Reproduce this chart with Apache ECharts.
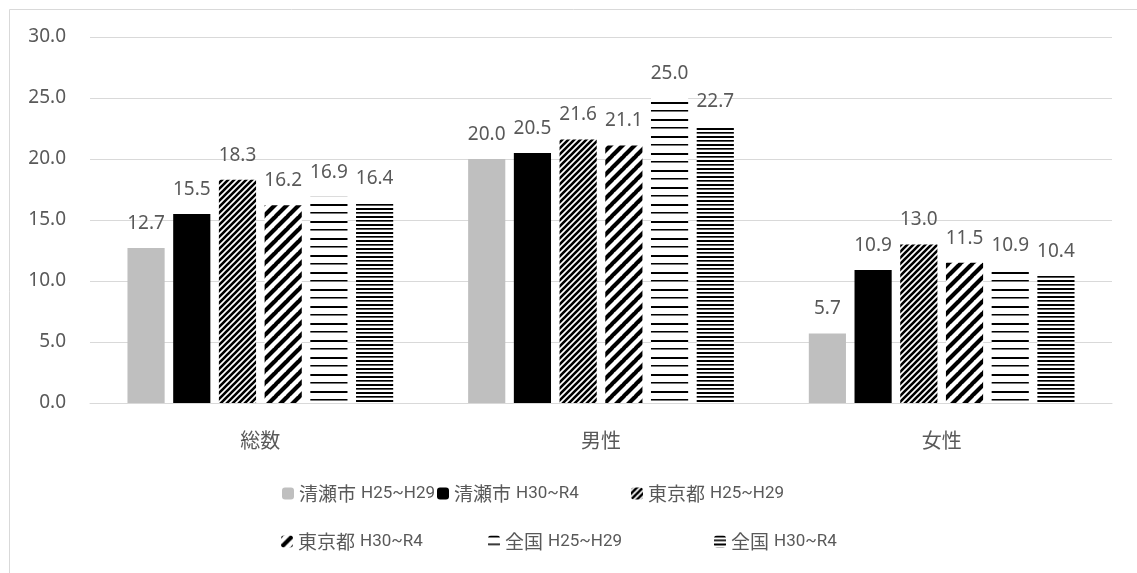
<!DOCTYPE html>
<html>
<head>
<meta charset="utf-8">
<script src="https://cdn.jsdelivr.net/npm/echarts@6/dist/echarts.min.js"></script>
<style>
  html, body { margin: 0; padding: 0; background: #fff; }
  #chart { width: 1137px; height: 573px; }
</style>
</head>
<body>
<div id="chart"></div>
<script>
// Categories and series values
const categories = ['総数', '男性', '女性'];
const seriesNames = [
  '清瀬市 H25~H29', '清瀬市 H30~R4',
  '東京都 H25~H29', '東京都 H30~R4',
  '全国 H25~H29', '全国 H30~R4'
];
const kiyoseH25 = [12.7, 20.0, 5.7];
const kiyoseH30 = [15.5, 20.5, 10.9];
const tokyoH25 = [18.3, 21.6, 13.0];
const tokyoH30 = [16.2, 21.1, 11.5];
const zenkokuH25 = [16.9, 25.0, 10.9];
const zenkokuH30 = [16.4, 22.7, 10.4];
const yTicks = [0, 5, 10, 15, 20, 25, 30];

const values = [kiyoseH25, kiyoseH30, tokyoH25, tokyoH30, zenkokuH25, zenkokuH30];

// Fill patterns
function diagonalTile(size, lineWidth) {
  const c = document.createElement('canvas');
  c.width = size; c.height = size;
  const g = c.getContext('2d');
  g.fillStyle = '#fff';
  g.fillRect(0, 0, size, size);
  g.strokeStyle = '#000';
  g.lineWidth = lineWidth;
  g.beginPath();
  for (let k = -1; k <= 1; k++) {
    const x0 = k * size;
    g.moveTo(x0 - 1, size + 1);
    g.lineTo(x0 + size + 1, -1);
  }
  g.stroke();
  return { image: c, repeat: 'repeat' };
}
function horizontalTile(height, rows) {
  const c = document.createElement('canvas');
  c.width = 4; c.height = height;
  const g = c.getContext('2d');
  g.fillStyle = '#fff';
  g.fillRect(0, 0, 4, height);
  rows.forEach(r => {
    g.fillStyle = r.color;
    g.fillRect(0, r.y, 4, r.h);
  });
  return { image: c, repeat: 'repeat' };
}

const fills = [
  '#bfbfbf',
  '#000000',
  diagonalTile(6, 2.6),
  diagonalTile(12, 4.2),
  horizontalTile(17, [{ y: 0, h: 2, color: '#000' }, { y: 8, h: 1, color: '#000' }, { y: 9, h: 1, color: '#777' }]),
  horizontalTile(8, [{ y: 0, h: 2, color: '#000' }, { y: 4, h: 1, color: '#000' }, { y: 5, h: 1, color: '#555' }])
];

const textColor = '#595959';
const fontFamily = "'Noto Sans', 'Noto Sans CJK JP', sans-serif";
const cjkFamily = "'Noto Sans CJK JP', sans-serif";
const latinFamily = "'Roboto', sans-serif";

const chart = echarts.init(document.getElementById('chart'));

const legendSpots = [
  { left: 282, top: 484 },
  { left: 437, top: 484 },
  { left: 631, top: 484 },
  { left: 281, top: 532 },
  { left: 488, top: 532 },
  { left: 714, top: 532 }
];

// Legend names: place name in CJK face, period in a latin face
function legendText(name) {
  const k = name.indexOf(' ');
  return '{j|' + name.slice(0, k) + '}{s|}{l|' + name.slice(k + 1) + '}';
}

chart.setOption({
  animation: false,
  backgroundColor: '#fff',
  textStyle: { fontFamily: fontFamily },
  graphic: [{
    type: 'rect',
    left: 7, top: 7,
    shape: { width: 1200, height: 700 },
    style: { fill: 'none', stroke: '#d9d9d9', lineWidth: 1 },
    silent: true
  }],
  grid: { left: 90, right: 25, top: 37, bottom: 170 },
  legend: seriesNames.map((name, i) => ({
    data: [name],
    left: legendSpots[i].left,
    top: legendSpots[i].top,
    padding: 0,
    itemWidth: 12,
    itemHeight: 12,
    itemGap: 0,
    selectedMode: false,
    formatter: legendText,
    textStyle: {
      color: textColor,
      rich: {
        j: { color: textColor, fontSize: 19, fontFamily: cjkFamily },
        s: { width: 5 },
        l: { color: textColor, fontSize: 17, fontFamily: latinFamily }
      }
    }
  })),
  xAxis: {
    type: 'category',
    data: categories,
    axisLine: { lineStyle: { color: '#d9d9d9', width: 1 } },
    axisTick: { show: false },
    axisLabel: { color: textColor, fontSize: 20, margin: 27, fontFamily: cjkFamily }
  },
  yAxis: {
    type: 'value',
    min: yTicks[0],
    max: yTicks[yTicks.length - 1],
    interval: yTicks[1] - yTicks[0],
    axisLine: { show: false },
    axisTick: { show: false },
    splitLine: { lineStyle: { color: '#d9d9d9', width: 1 } },
    axisLabel: {
      color: textColor, fontSize: 19, margin: 24, fontFamily: fontFamily,
      formatter: v => v.toFixed(1)
    }
  },
  series: seriesNames.map((name, i) => ({
    name: name,
    type: 'bar',
    data: values[i],
    barGap: '23%',
    barCategoryGap: '22%',
    itemStyle: { color: fills[i] },
    label: {
      show: true,
      position: 'top',
      distance: 15,
      color: textColor,
      fontSize: 19,
      fontFamily: fontFamily,
      formatter: p => p.value.toFixed(1)
    }
  }))
});
</script>
</body>
</html>
